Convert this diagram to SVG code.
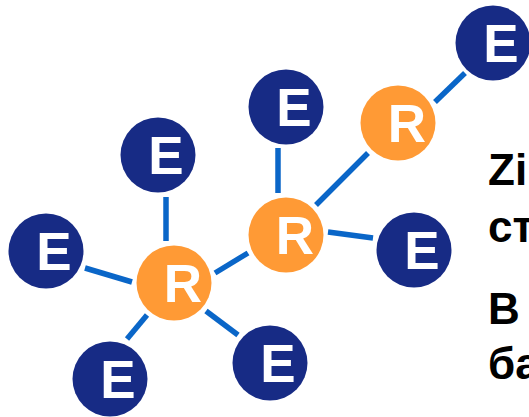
<svg xmlns="http://www.w3.org/2000/svg" width="529" height="417" viewBox="0 0 529 417">
  <style>
    .link { stroke: #0a66c8; stroke-width: 5.5; stroke-linecap: butt; fill: none; }
    .e circle { fill: #172b85; }
    .r circle { fill: #ff9a35; }
    .node text { font-family: "Liberation Sans", Arial, sans-serif; font-weight: bold; font-size: 53px; fill: #ffffff; text-anchor: middle; }
    .caption { font-family: "Liberation Sans", Arial, sans-serif; font-weight: bold; font-size: 44px; fill: #000000; }
  </style>
  <rect width="529" height="417" fill="#ffffff"/>

  <!-- connectors -->
  <g id="connectors">
    <line class="link" x1="166" y1="197" x2="166" y2="241"/>
    <line class="link" x1="85" y1="268" x2="132" y2="282"/>
    <line class="link" x1="147" y1="315" x2="127" y2="339"/>
    <line class="link" x1="206" y1="311" x2="238" y2="335"/>
    <line class="link" x1="215" y1="273" x2="248" y2="253"/>
    <line class="link" x1="278" y1="148" x2="278" y2="193"/>
    <line class="link" x1="316" y1="205" x2="368" y2="153"/>
    <line class="link" x1="328" y1="232" x2="373" y2="238"/>
    <line class="link" x1="435" y1="102" x2="465" y2="73"/>
  </g>

  <!-- nodes -->
  <g id="e1" class="node e"><circle cx="493" cy="43" r="37.5"/><text x="501" y="62">E</text></g>
  <g id="r1" class="node r"><circle cx="398" cy="123" r="37.5"/><text x="407" y="142">R</text></g>
  <g id="e2" class="node e"><circle cx="286" cy="107" r="37.5"/><text x="294" y="126">E</text></g>
  <g id="r2" class="node r"><circle cx="286" cy="235" r="37.5"/><text x="295" y="254">R</text></g>
  <g id="e3" class="node e"><circle cx="158" cy="155" r="37.5"/><text x="166" y="174">E</text></g>
  <g id="e4" class="node e"><circle cx="46" cy="251" r="37.5"/><text x="54" y="270">E</text></g>
  <g id="r3" class="node r"><circle cx="174" cy="283" r="37.5"/><text x="183" y="302">R</text></g>
  <g id="e5" class="node e"><circle cx="414" cy="250" r="37.5"/><text x="422" y="269">E</text></g>
  <g id="e6" class="node e"><circle cx="110" cy="379" r="37.5"/><text x="118" y="398">E</text></g>
  <g id="e7" class="node e"><circle cx="270" cy="363" r="37.5"/><text x="278" y="382">E</text></g>

  <!-- side caption -->
  <g id="caption">
    <text class="caption" x="488" y="185">Zi</text>
    <text class="caption" x="488" y="242">ст</text>
    <text class="caption" x="488" y="324">B</text>
    <text class="caption" x="488" y="379">ба</text>
  </g>
</svg>
